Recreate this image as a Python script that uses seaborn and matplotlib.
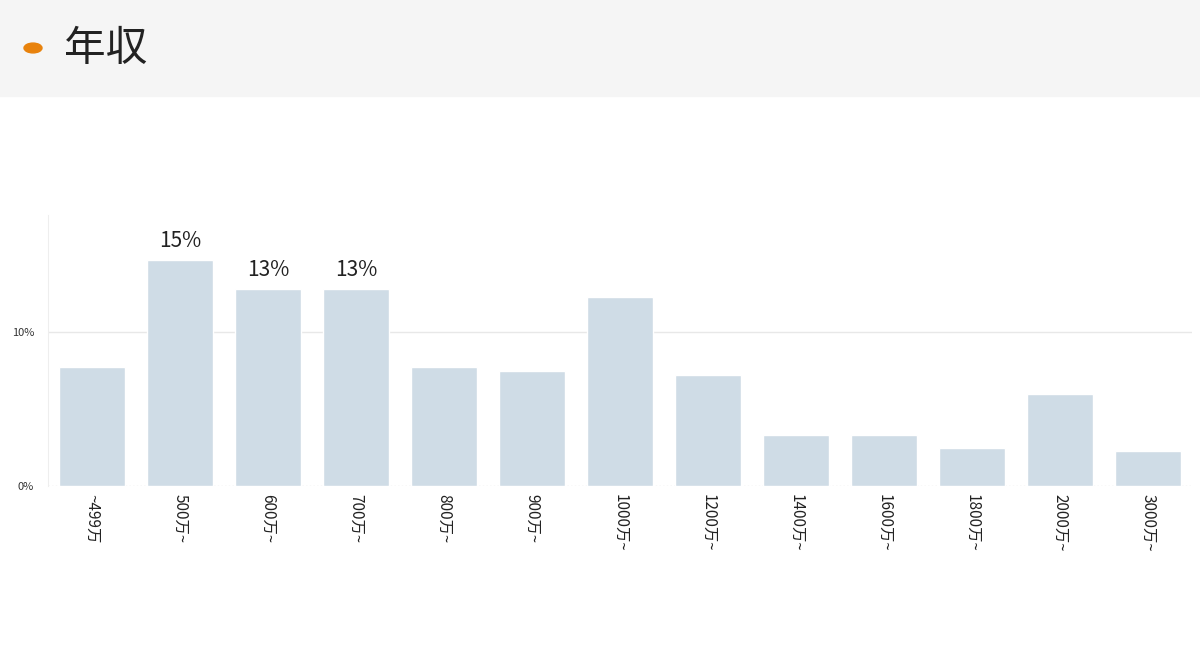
import matplotlib
matplotlib.use("Agg")
import matplotlib.pyplot as plt
import seaborn as sns
import pandas as pd
from matplotlib.patches import Rectangle

categories = ["~499万", "500万~", "600万~", "700万~", "800万~", "900万~", "1000万~",
              "1200万~", "1400万~", "1600万~", "1800万~", "2000万~", "3000万~"]
values = [7.7, 14.7, 12.8, 12.8, 7.7, 7.5, 12.3, 7.2, 3.3, 3.3, 2.5, 6.0, 2.3]
labelled = [1, 2, 3]

sns.set_style("white")
plt.rcParams['font.family'] = ['Noto Sans CJK JP', 'DejaVu Sans']

dat = pd.DataFrame({"cat": categories, "val": values})
fig = plt.figure(figsize=(12, 6.54), dpi=100)

# header band
fig.patches.append(Rectangle((0, 1 - 96 / 654), 1, 96 / 654, transform=fig.transFigure,
                             color="#f5f5f5", zorder=0))
fig.patches.append(matplotlib.patches.Circle((33 / 1200, 1 - 48 / 654), 0.0075,
                                             transform=fig.transFigure, color="#e8820c"))
fig.text(64 / 1200, 1 - 50 / 654, "年収", fontsize=30, va="center", color="#222222")

ax = fig.add_axes([48 / 1200, 1 - 486 / 654, 1144 / 1200, 271 / 654])
sns.barplot(data=dat, x="cat", y="val", color="#cfdce6", saturation=1, width=0.75, ax=ax)
ax.set_ylim(0, 17.6)
ax.set_yticks([0, 10])
ax.set_yticklabels(["0%", "10%"], fontsize=8, color="#333333")
ax.tick_params(axis="y", length=0, pad=10)
ax.tick_params(axis="x", length=0, pad=6)
ax.set_xticks(range(len(categories)))
ax.set_xticklabels(categories, rotation=270, fontsize=11, color="#222222", va="top")
ax.set_xlabel("")
ax.set_ylabel("")
ax.axhline(10, color="#e8e8e8", lw=1, zorder=0)
ax.axhline(0, color="#dddddd", lw=1, ls=":", zorder=0)
for s in ["top", "right", "bottom"]:
    ax.spines[s].set_visible(False)
ax.spines["left"].set_color("#eeeeee")
for i in labelled:
    ax.text(i, values[i] + 0.5, f"{round(values[i])}%", ha="center", va="bottom",
            fontsize=15, color="#222222")

fig.savefig("out.png")
